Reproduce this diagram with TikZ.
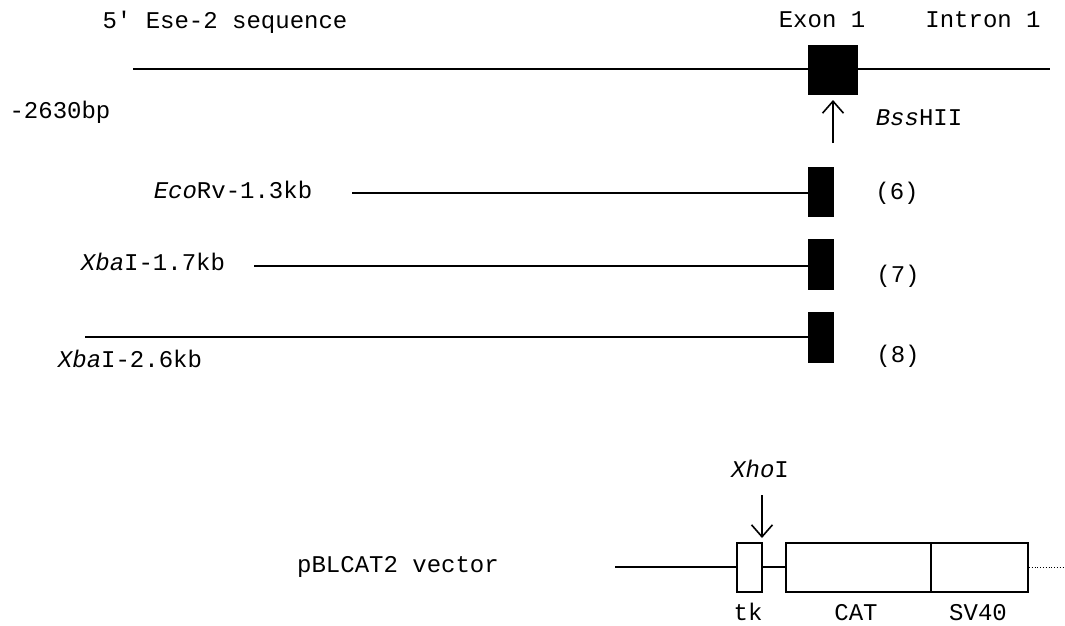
\documentclass[tikz,border=0pt]{standalone}
\usepackage{fontspec}
\setmainfont{Liberation Mono}
\usetikzlibrary{arrows.meta}
\tikzset{
  lbl/.style={font=\fontsize{24}{26}\selectfont, inner sep=0pt, anchor=base},
  dna/.style={line width=1.8pt},
  exonbar/.style={fill=black, draw=none, inner sep=0pt, minimum width=26pt, minimum height=50pt},
  vecbox/.style={draw, line width=1.8pt, fill=white, inner sep=0pt, minimum height=49pt},
  cutsite/.style={line width=1.6pt, -{Straight Barb[length=12pt,width=21pt,line width=1.6pt]}}
}
\begin{document}
\begin{tikzpicture}[x=1pt,y=-1pt]
\useasboundingbox (0,0) rectangle (1065,625);

% genomic region
\node[lbl] (title) at (225,28) {5′ Ese-2 sequence};
\node[lbl] (exlbl) at (822,27) {Exon 1};
\node[lbl] (inlbl) at (983,27) {Intron 1};
\node[lbl] (start) at (60,118) {-2630bp};
\coordinate (g0) at (133,69);
\coordinate (g1) at (1050,69);
\draw[dna] (g0) -- (g1);
\node[exonbar, minimum width=50pt, minimum height=50pt] (exon) at (833,70) {};
\coordinate (bss) at (833,143);
\draw[cutsite] (bss) -- (exon.south |- 0,100);
\node[lbl] (bsslbl) at (919,125) {\textit{Bss}HII};

% promoter fragments
\node[exonbar] (e6) at (821,192) {};
\node[exonbar, minimum height=51pt] (e7) at (821,264.5) {};
\node[exonbar, minimum height=51pt] (e8) at (821,337.5) {};
\coordinate (s6) at (352,193);
\coordinate (s7) at (254,266);
\coordinate (s8) at (85,337);
\draw[dna] (s6) -- (s6 -| e6.west);
\draw[dna] (s7) -- (s7 -| e7.west);
\draw[dna] (s8) -- (s8 -| e8.west);
\node[lbl] (l6) at (233,198) {\textit{Eco}Rv-1.3kb};
\node[lbl] (l7) at (153,270) {\textit{Xba}I-1.7kb};
\node[lbl] (l8) at (130,367) {\textit{Xba}I-2.6kb};
\node[lbl] (n6) at (897,199) {(6)};
\node[lbl] (n7) at (898,282) {(7)};
\node[lbl] (n8) at (898,362) {(8)};

% reporter vector
\node[lbl] (veclbl) at (398,572) {pBLCAT2 vector};
\coordinate (v0) at (615,567);
\node[vecbox, minimum width=25pt] (tk) at (749.5,567.5) {};
\node[vecbox, minimum width=145pt] (cat) at (858.5,567.5) {};
\node[vecbox, minimum width=97pt] (sv) at (979.5,567.5) {};
\coordinate (v1) at (1065,567);
\draw[dna] (v0) -- (v0 -| tk.west);
\draw[dna] (v0 -| tk.east) -- (v0 -| cat.west);
\draw[line width=0.8pt, dotted] (v0 -| sv.east) -- (v1);
\coordinate (xho) at (762,495);
\draw[cutsite] (xho) -- (762,538);
\node[lbl] (xholbl) at (760,477) {\textit{Xho}I};
\node[lbl] (tklbl) at (748,620) {tk};
\node[lbl] (catlbl) at (856,620) {CAT};
\node[lbl] (svlbl) at (978,620) {SV40};
\end{tikzpicture}
\end{document}
